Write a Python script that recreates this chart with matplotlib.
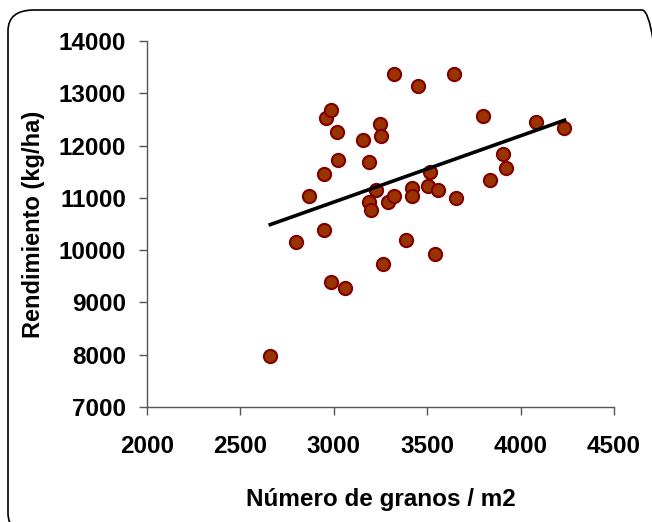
import numpy as np
import matplotlib

matplotlib.use('Agg')
import matplotlib.pyplot as plt
from matplotlib.patches import FancyBboxPatch

# granos / m2 and rendimiento (kg/ha)
granos = [2660, 2800, 2865, 2950, 2950, 2960, 2985, 2985, 3015, 3025,
          3060, 3155, 3190, 3190, 3200, 3225, 3245, 3255, 3265, 3290,
          3320, 3320, 3385, 3420, 3420, 3450, 3505, 3515, 3540, 3560,
          3645, 3655, 3800, 3835, 3905, 3920, 4080, 4235]
rendimiento = [7980, 10160, 11040, 10385, 11455, 12525, 12685, 9390, 12260, 11725,
               9285, 12115, 11685, 10930, 10770, 11150, 12420, 12190, 9735, 10930,
               13375, 11040, 10195, 11195, 11040, 13140, 11235, 11495, 9925, 11150,
               13375, 11005, 12570, 11350, 11845, 11580, 12455, 12345]

x_ticks = [2000, 2500, 3000, 3500, 4000, 4500]
y_ticks = [7000, 8000, 9000, 10000, 11000, 12000, 13000, 14000]

plt.rcParams['font.family'] = ['Liberation Sans', 'DejaVu Sans']
plt.rcParams['font.weight'] = 'bold'

fig = plt.figure(figsize=(6.52, 5.22), dpi=100)
ax = fig.add_axes([0.2255, 0.2203, 0.7162, 0.7012])

# rounded frame around the whole chart
frame = FancyBboxPatch((8 / 652, 0.0 - 12 / 522), 660 / 652, 524 / 522,
                       boxstyle="round,pad=0,rounding_size=0.04",
                       transform=fig.transFigure, facecolor='none',
                       edgecolor='black', linewidth=1.2, clip_on=False)
fig.patches.append(frame)

x = np.array(granos)
y = np.array(rendimiento)
ax.scatter(x, y, s=90, facecolor='#993300', edgecolor='#800000', linewidth=1.5, zorder=3)

# linear trend
slope, intercept = np.polyfit(x, y, 1)
xl = np.array([x.min(), x.max()])
ax.plot(xl, slope * xl + intercept, color='black', linewidth=2.6, zorder=4)

ax.set_xlim(2000, 4500)
ax.set_ylim(7000, 14000)
ax.set_xticks(x_ticks)
ax.set_yticks(y_ticks)

for side in ['top', 'right']:
    ax.spines[side].set_visible(False)
for side in ['left', 'bottom']:
    ax.spines[side].set_color('#555555')
    ax.spines[side].set_linewidth(1.0)

ax.tick_params(axis='both', direction='out', length=6, width=1.0, color='#555555', labelsize=17.5)
ax.tick_params(axis='x', pad=14)
ax.tick_params(axis='y', pad=9)

ax.set_xlabel('Número de granos / m2', fontsize=17.5, fontweight='bold', labelpad=22)
ax.set_ylabel('Rendimiento (kg/ha)', fontsize=17, fontweight='bold', labelpad=10)

fig.savefig('out.png', dpi=100)
